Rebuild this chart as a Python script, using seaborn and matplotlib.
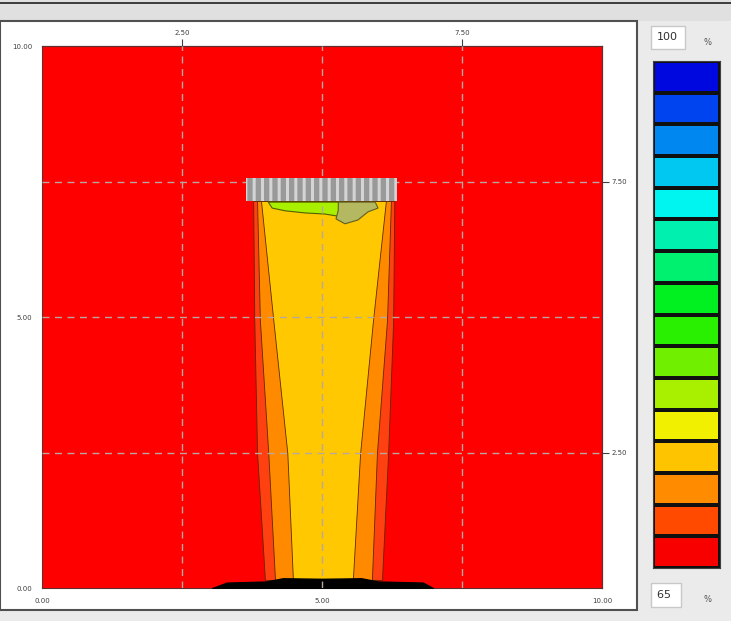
import numpy as np
import pandas as pd
import seaborn as sns
import matplotlib.pyplot as plt
from matplotlib.colors import ListedColormap
from matplotlib.patches import Rectangle, Polygon

# plume band edges (x at each height)
band_y = [7.14, 4.94, 2.49, 0.15]
outer_left = [3.77, 3.79, 3.84, 3.98]
outer_right = [6.29, 6.27, 6.18, 6.07]
orange_left = [3.84, 3.89, 4.04, 4.16]
orange_right = [6.23, 6.16, 5.98, 5.89]
gold_left = [3.91, 4.13, 4.38, 4.48]
gold_right = [6.14, 5.91, 5.68, 5.55]

# source bar at the top of the plume
bar_x = [3.64, 6.34]
bar_y = [7.14, 7.56]

# green patches just under the bar
lime_x = [4.04, 5.41, 5.41, 5.29, 5.05, 4.70, 4.34, 4.11]
lime_y = [7.12, 7.12, 6.97, 6.86, 6.90, 6.92, 6.96, 7.01]
olive_x = [5.29, 5.95, 6.00, 5.82, 5.64, 5.41, 5.25, 5.29]
olive_y = [7.12, 7.12, 7.01, 6.94, 6.79, 6.72, 6.81, 6.97]

# dark deposit along the floor
blob_x = [3.04, 3.30, 4.00, 4.30, 5.00, 5.70, 6.00, 6.80, 6.98]
blob_h = [0.00, 0.10, 0.12, 0.18, 0.17, 0.18, 0.12, 0.10, 0.00]

grid_pos = [2.5, 5.0, 7.5]

# colour scale 65..100 %, top to bottom
scale_levels = [100.0, 97.8, 95.6, 93.4, 91.3, 89.1, 86.9, 84.7,
                82.5, 80.3, 78.1, 75.9, 73.8, 71.6, 69.4, 67.2]
scale_colors = ['#0008e0', '#0044f0', '#0088f0', '#00c8f0', '#00f4f0', '#00f0b0',
                '#00f070', '#00f020', '#28f000', '#70f000', '#a8f000', '#f0f000',
                '#ffc400', '#ff8c00', '#ff4a00', '#f80000']

sns.set_style('white')
plt.rcParams['font.family'] = ['DejaVu Sans']
plt.rcParams['hatch.linewidth'] = 2.2

fig = plt.figure(figsize=(7.31, 6.21), dpi=100)
fig.patch.set_facecolor('#ebebeb')

# window chrome, kept behind the axes
fig.patches.append(Rectangle((0, 0.966), 1, 0.034, transform=fig.transFigure,
                             facecolor='#e0e0e0', edgecolor='none', zorder=-3))
fig.patches.append(Rectangle((0, 0.993), 1, 0.004, transform=fig.transFigure,
                             facecolor='#404040', edgecolor='none', zorder=-2))
fig.patches.append(Rectangle((0.0, 0.018), 0.871, 0.948, transform=fig.transFigure,
                             facecolor='white', edgecolor='#505050', linewidth=1.5, zorder=-2))

ax = fig.add_axes([0.0575, 0.0531, 0.7661, 0.8728])
ax.set_xlim(0, 10)
ax.set_ylim(0, 10)
ax.set_facecolor('#ff0000')

line_c = '#5a2a00'
ax.fill_betweenx(band_y, outer_left, outer_right, color='#ff4010',
                 edgecolor=line_c, linewidth=0.6, zorder=1)
ax.fill_betweenx(band_y, orange_left, orange_right, color='#ff8a00',
                 edgecolor=line_c, linewidth=0.6, zorder=2)
ax.fill_betweenx(band_y, gold_left, gold_right, color='#ffc800',
                 edgecolor=line_c, linewidth=0.6, zorder=3)

ax.add_patch(Polygon(list(zip(lime_x, lime_y)), closed=True, facecolor='#a8f000',
                     edgecolor='#506000', linewidth=0.8, zorder=4))
ax.add_patch(Polygon(list(zip(olive_x, olive_y)), closed=True, facecolor='#b4b860',
                     edgecolor='#606020', linewidth=0.8, zorder=4))

ax.fill_between(blob_x, 0, blob_h, color='black', zorder=5)

for g in grid_pos:
    ax.axvline(g, color='#b8a8a0', linestyle=(0, (5, 4)), linewidth=1, zorder=6)
    ax.axhline(g, color='#b8a8a0', linestyle=(0, (5, 4)), linewidth=1, zorder=6)

ax.add_patch(Rectangle((bar_x[0], bar_y[0]), bar_x[1] - bar_x[0], bar_y[1] - bar_y[0],
                       facecolor='#999999', edgecolor='#d4d4d4', hatch='||',
                       linewidth=0, zorder=7))

ax.set_xticks([0, 5, 10])
ax.set_xticklabels(['0.00', '5.00', '10.00'])
ax.set_yticks([0, 5, 10])
ax.set_yticklabels(['0.00', '5.00', '10.00'])
ax.tick_params(direction='out', length=5, width=0.8, labelsize=5, pad=2, colors='#404040')

top = ax.secondary_xaxis('top')
top.set_xticks(grid_pos[::2])
top.set_xticklabels(['2.50', '7.50'])
top.tick_params(direction='out', length=5, width=0.8, labelsize=5, pad=2, colors='#404040')
right = ax.secondary_yaxis('right')
right.set_yticks(grid_pos[::2])
right.set_yticklabels(['2.50', '7.50'])
right.tick_params(direction='out', length=5, width=0.8, labelsize=5, pad=2, colors='#404040')

for sp in list(ax.spines.values()) + [top.spines['top'], right.spines['right']]:
    sp.set_color('#603030')
    sp.set_linewidth(0.8)

# colour scale as a one-column heatmap
cax = fig.add_axes([0.8933, 0.0853, 0.0917, 0.8164])
scale_df = pd.DataFrame({'pct': scale_levels})
sns.heatmap(scale_df, ax=cax, cmap=ListedColormap(scale_colors[::-1]), cbar=False,
            linewidths=1.6, linecolor='#101010', xticklabels=False, yticklabels=False)
for sp in cax.spines.values():
    sp.set_visible(True)
    sp.set_color('#404040')
    sp.set_linewidth(0.8)

box = dict(facecolor='white', edgecolor='#c8c8c8', boxstyle='square,pad=0.6')
fig.text(0.899, 0.940, '100', fontsize=8, va='center', ha='left', color='#303030', bbox=box)
fig.text(0.962, 0.932, '%', fontsize=6, va='center', color='#505050')
fig.text(0.899, 0.042, '65 ', fontsize=8, va='center', ha='left', color='#303030', bbox=box)
fig.text(0.962, 0.034, '%', fontsize=6, va='center', color='#505050')

fig.savefig('out.png', dpi=100)
